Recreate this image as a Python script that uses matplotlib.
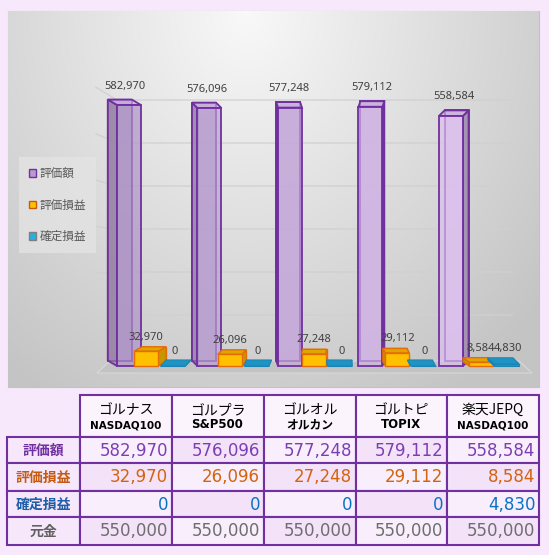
import numpy as np
import matplotlib
matplotlib.use('Agg')
import matplotlib.pyplot as plt
from matplotlib.patches import Rectangle, Polygon, Patch
from matplotlib.colors import to_rgba

# ---------------------------------------------------------------
# data
categories = ['ゴルナス', 'ゴルプラ', 'ゴルオル', 'ゴルトピ', '楽天JEPQ']
subtitles = ['NASDAQ100', 'S&P500', 'オルカン', 'TOPIX', 'NASDAQ100']
series_names = ['評価額', '評価損益', '確定損益']
valuation = [582970, 576096, 577248, 579112, 558584]
unrealized = [32970, 26096, 27248, 29112, 8584]
realized = [0, 0, 0, 0, 4830]
principal = [550000, 550000, 550000, 550000, 550000]
row_labels = ['評価額', '評価損益', '確定損益', '元金']
grid_values = [100000, 200000, 300000, 400000, 500000, 600000]

title = 'かもナスの働かない副業実績'
JP = ['Noto Sans CJK JP', 'DejaVu Sans']

# ---------------------------------------------------------------
# pixel <-> data helpers (figure is 549x555 px)
W, H = 549, 555
X0, SX = 146.0, 83.8          # px of x=0, px per x unit
Y0, SY = 366.0, 261.0 / 582970  # px of value 0, px per value unit

def dx_(p):
    return p / SX

def dy_(p):
    return p / SY

def to_data(px, py):
    return (px - X0) / SX, (Y0 - py) / SY

fig = plt.figure(figsize=(W / 100, H / 100), dpi=100)
fig.patch.set_facecolor('#f7e8fc')

# background axes in pixel coords (table, frame)
bg = fig.add_axes([0, 0, 1, 1])
bg.set_xlim(0, W)
bg.set_ylim(H, 0)
bg.axis('off')

# ---------------------------------------------------------------
# chart panel
pl, pr, pt, pb = 8, 539, 11, 387
ax = fig.add_axes([pl / W, 1 - pb / H, (pr - pl) / W, (pb - pt) / H])
x_lo, y_lo = to_data(pl, pb)
x_hi, y_hi = to_data(pr, pt)

u = np.linspace(0, 1, 300)
v = np.linspace(0, 1, 300)
U, V = np.meshgrid(u, v)
d = np.clip(np.sqrt(((U - 0.45) / 0.6) ** 2 + (V / 1.0) ** 2), 0, 1.2)
L = 0.975 - 0.17 * d
img = np.dstack([L, L, L])
ax.imshow(img, extent=[x_lo, x_hi, y_lo, y_hi], aspect='auto', zorder=0,
          origin='upper', interpolation='bilinear')
ax.set_xlim(x_lo, x_hi)
ax.set_ylim(y_lo, y_hi)
ax.axis('off')
bg.add_patch(Rectangle((pl, pt), pr - pl, pb - pt, fill=False,
                       ec='#c9bccf', lw=0.8, zorder=5))

# back wall gridlines
for gv in grid_values:
    yb_px = 358 - gv * 0.43e-3
    drop = (258 - yb_px) * 0.08
    xa, ya = to_data(96, yb_px - drop)
    xb, yb = to_data(117, yb_px)
    xc_, _ = to_data(512, yb_px)
    ax.plot([xa, xb, xc_], [ya, yb, yb], color='#d0d0d0', lw=0.9, zorder=1)

# floor
floor_px = [(97, 373), (532, 373), (519, 361), (110, 361)]
ax.add_patch(Polygon([to_data(*p) for p in floor_px], closed=True,
                     fc='#c3c3c3', ec='#d8d8d8', lw=0.8, zorder=2))


def draw_box(xc, h, w, dx, dy, face, top, side, edge, alpha, lw, z):
    x0, x1 = xc - w / 2, xc + w / 2
    fc = to_rgba(face, alpha)
    ax.add_patch(Rectangle((x0 + dx, dy), w, h, fc=fc, ec=edge, lw=lw,
                           zorder=z))
    sx = x1 if dx > 0 else x0
    ax.add_patch(Polygon([(sx, 0), (sx + dx, dy), (sx + dx, h + dy), (sx, h)],
                         fc=to_rgba(side, alpha), ec=edge, lw=lw, zorder=z))
    ax.add_patch(Polygon([(x0, h), (x1, h), (x1 + dx, h + dy), (x0 + dx, h + dy)],
                         fc=to_rgba(top, alpha), ec=edge, lw=lw, zorder=z))
    ax.bar(xc, h, w, color=fc, edgecolor=edge, linewidth=lw, zorder=z)


xs = np.arange(len(categories))
purple_x = -0.203 + 0.9606 * xs
orange_x = xs.astype(float)
teal_x = 0.322 + 0.9952 * xs

purple_faces = [tuple(c) for c in np.linspace(to_rgba('#ad92c6'), to_rgba('#dcc0ee'), 5)]

for i in xs:
    # 評価額
    xp = purple_x[i]
    dxp = dx_(0.046 * (xp * SX + X0 - 330))
    draw_box(xp, valuation[i], dx_(24), dxp, dy_(5.5), purple_faces[i][:3],
             '#c8acdc', '#8e7c9a', '#7030a0', 0.68, 1.3, 3)
    ax.text(xp + dxp / 2, valuation[i] + dy_(19), f'{valuation[i]:,}',
            ha='center', va='center', fontsize=8, color='#404040',
            family='Noto Sans', zorder=6)
    # 評価損益
    xo = orange_x[i]
    dxo = dx_(-0.042 * (xo * SX + X0 - 337))
    draw_box(xo, unrealized[i], dx_(24), dxo, dy_(4.5), '#ffc000',
             '#e0a600', '#c99400', '#e46c0a', 1.0, 1.0, 4)
    ax.text(xo, unrealized[i] + dy_(14), f'{unrealized[i]:,}',
            ha='center', va='center', fontsize=8, color='#404040',
            family='Noto Sans', zorder=6)
    # 確定損益
    xt = teal_x[i]
    dxt = dx_(-0.035 * (xt * SX + X0 - 330))
    draw_box(xt, realized[i], dx_(25), dxt, dy_(6), '#1f94c4',
             '#1f94c4', '#17789f', '#1a86b4', 1.0, 0.8, 4)
    ax.text(xt + dx_(1.5), realized[i] + dy_(15), f'{realized[i]:,}',
            ha='center', va='center', fontsize=8, color='#404040',
            family='Noto Sans', zorder=6)

# title
bg.text(273.5, 37, title, ha='center', va='center', fontsize=17,
        color='#505050', family=JP)

# legend
handles = [Patch(fc='#b89ad0', ec='#7030a0', lw=1.0),
           Patch(fc='#ffc000', ec='#c55a11', lw=1.0),
           Patch(fc='#2ab0e0', ec='#7f7f7f', lw=1.0)]
leg = ax.legend(handles, series_names, loc='upper left',
                bbox_to_anchor=(19 / W, 1 - 157 / H), bbox_transform=fig.transFigure,
                prop={'family': JP, 'size': 8.4}, handlelength=0.6, handleheight=0.6,
                handletextpad=0.35, labelspacing=1.6, borderpad=0.85,
                frameon=True, fancybox=False, borderaxespad=0)
for t in leg.get_texts():
    t.set_color('#595959')
leg.get_frame().set_facecolor('#e4e4e4')
leg.get_frame().set_alpha(0.75)
leg.get_frame().set_edgecolor('none')
leg.set_zorder(7)

# ---------------------------------------------------------------
# table
col_edges = [7, 79.5, 171.5, 263.5, 355.5, 447, 539]
row_edges = [394.5, 437, 463.3, 490.7, 517.3, 544.7]
border = '#7030a0'
label_colors = ['#7030a0', '#c55a11', '#1f5fa8', '#606060']
value_colors = ['#7b3fb5', '#d2640f', '#0b72c2', '#6e6e6e']
table_rows = [valuation, unrealized, realized, principal]

for c in range(len(categories)):
    x0, x1 = col_edges[c + 1], col_edges[c + 2]
    bg.add_patch(Rectangle((x0, row_edges[0]), x1 - x0, row_edges[1] - row_edges[0],
                           fc='#fbf4fd', ec=border, lw=1.5, zorder=2))
    xm = (x0 + x1) / 2
    bg.text(xm, 410, categories[c], ha='center', va='center', fontsize=10,
            color='black', family=JP, zorder=3)
    small = subtitles[c] == 'NASDAQ100'
    bg.text(xm, 425, subtitles[c], ha='center', va='center',
            fontsize=7.5 if small else 8.5, weight='bold', color='black',
            family=JP if subtitles[c] == 'オルカン' else 'DejaVu Sans', zorder=3)

for r in range(len(row_labels)):
    y0, y1 = row_edges[r + 1], row_edges[r + 2]
    ym = (y0 + y1) / 2 + 0.5
    bg.add_patch(Rectangle((col_edges[0], y0), col_edges[1] - col_edges[0], y1 - y0,
                           fc='#f6e7fa', ec=border, lw=1.5, zorder=2))
    bg.text((col_edges[0] + col_edges[1]) / 2, ym, row_labels[r], ha='center',
            va='center', fontsize=10, weight='bold', color=label_colors[r],
            family=JP, zorder=3)
    for c in range(len(categories)):
        x0, x1 = col_edges[c + 1], col_edges[c + 2]
        fc = '#f9eefc' if (r + c) % 2 == 0 else '#f3e2f8'
        bg.add_patch(Rectangle((x0, y0), x1 - x0, y1 - y0, fc=fc, ec=border,
                               lw=1.5, zorder=2))
        bg.text(x1 - 3.5, ym, f'{table_rows[r][c]:,}', ha='right', va='center',
                fontsize=12, color=value_colors[r], family='DejaVu Sans', zorder=3)

fig.savefig('out.png', dpi=100, facecolor=fig.get_facecolor())
